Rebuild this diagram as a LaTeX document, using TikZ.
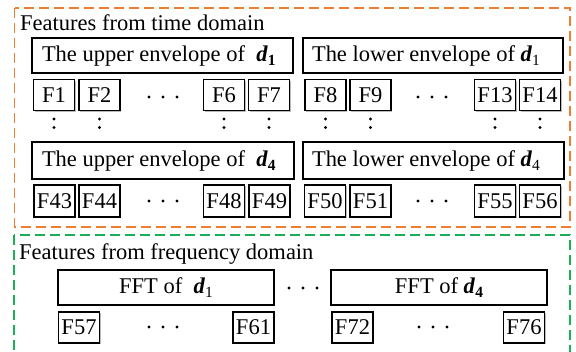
\documentclass[tikz,border=0pt]{standalone}
\usepackage{fontspec}
\setmainfont{Liberation Serif}
\usetikzlibrary{shadows}
\definecolor{orangeC}{HTML}{ED7D31}
\definecolor{greenC}{HTML}{1BAF55}
\newcommand{\dB}[1]{\textbf{\textit{d}}\raisebox{-4.5pt}{\fontsize{15.5}{16}\selectfont\bfseries #1}}
\newcommand{\dR}[1]{\textbf{\textit{d}}\raisebox{-4.5pt}{\fontsize{15.5}{16}\selectfont #1}}
\newcommand{\hdots}[2]{\foreach \dx in {-14,0,14}{\fill ({#1+\dx},#2) circle (1.6);}}
\newcommand{\lbox}[2]{\makebox[#1][l]{#2}}
\tikzset{
  every node/.style={font=\fontsize{22.5}{27}\selectfont},
  shad/.style={drop shadow={shadow xshift=1.3pt,shadow yshift=-1.3pt,fill=black!45,opacity=0.6}},
  envbox/.style={draw,line width=1.2pt,fill=white,shad,minimum height=35,inner ysep=0pt},
  fftbox/.style={draw,line width=1.2pt,fill=white,shad,minimum height=35,inner sep=0pt},
  fbox/.style={draw,line width=1.1pt,fill=white,shad,minimum width=41,minimum height=31,inner sep=0.5pt},
  vdot/.style={line width=3.2pt,dash pattern=on 0pt off 8.4pt,line cap=round,shorten <=8pt,shorten >=6.5pt},
  group/.style={line width=1.8pt,dash pattern=on 10pt off 5pt}
}
\begin{document}
\begin{tikzpicture}[x=1pt,y=-1pt]
\useasboundingbox (0,0) rectangle (576,352);
\clip (0,0) rectangle (576,352);
% group frames
\draw[group,orangeC] (14.5,8) rectangle (570,227);
\draw[group,greenC] (14,235) rectangle (570,362);
\node[anchor=base west,inner sep=0pt] (t1) at (20,31) {Features from time domain};
\node[anchor=base west,inner sep=0pt] (t2) at (19,260) {Features from frequency domain};
% envelope boxes
\node[envbox,inner xsep=10pt] (u1) at (162.5,55.5) {\lbox{241pt}{The upper envelope of\ \ \dB{1}}};
\node[envbox,inner xsep=9pt] (l1) at (433,55.5) {\lbox{242pt}{The lower envelope of \dR{1}}};
\node[envbox,inner xsep=10pt,minimum height=37] (u4) at (163,160.5) {\lbox{242pt}{The upper envelope of\ \ \dB{4}}};
\node[envbox,inner xsep=9pt,minimum height=37] (l4) at (433.5,160.5) {\lbox{243pt}{The lower envelope of \dR{4}}};
% row 1
\node[fbox] (f1) at (54,95) {F1};
\node[fbox] (f2) at (99.5,95) {F2};
\node[fbox] (f6) at (224,95) {F6};
\node[fbox] (f7) at (269,95) {F7};
\node[fbox] (f8) at (325.5,95) {F8};
\node[fbox] (f9) at (370.5,95) {F9};
\node[fbox] (f13) at (495,95) {F13};
\node[fbox] (f14) at (540,95) {F14};
\hdots{163}{97}
\hdots{432}{97}
% vertical dots
\foreach \n in {f1,f2,f6,f7}{\draw[vdot] (\n.south) -- (\n.south |- u4.north);}
\foreach \n in {f8,f9,f13,f14}{\draw[vdot] (\n.south) -- (\n.south |- l4.north);}
% row 2
\node[fbox,minimum height=32] (f43) at (54.5,201) {F43};
\node[fbox,minimum height=32] (f44) at (99.5,201) {F44};
\node[fbox,minimum height=32] (f48) at (224,201) {F48};
\node[fbox,minimum height=32] (f49) at (269.5,201) {F49};
\node[fbox,minimum height=32] (f50) at (325,201) {F50};
\node[fbox,minimum height=32] (f51) at (370.5,201) {F51};
\node[fbox,minimum height=32] (f55) at (495,201) {F55};
\node[fbox,minimum height=32] (f56) at (540,201) {F56};
\hdots{163}{201}
\hdots{432}{201}
% frequency
\node[fftbox,minimum width=216] (fa) at (166,287.5) {FFT of\ \ \dR{1}};
\node[fftbox,minimum width=216] (fb) at (439,287.5) {FFT of \dB{4}};
\hdots{303}{288}
\node[fbox] (f57) at (79,327.5) {F57};
\node[fbox] (f61) at (253.5,327.5) {F61};
\node[fbox] (f72) at (352.5,327.5) {F72};
\node[fbox] (f76) at (524,327.5) {F76};
\hdots{163}{327}
\hdots{433}{327}
\end{tikzpicture}
\end{document}
